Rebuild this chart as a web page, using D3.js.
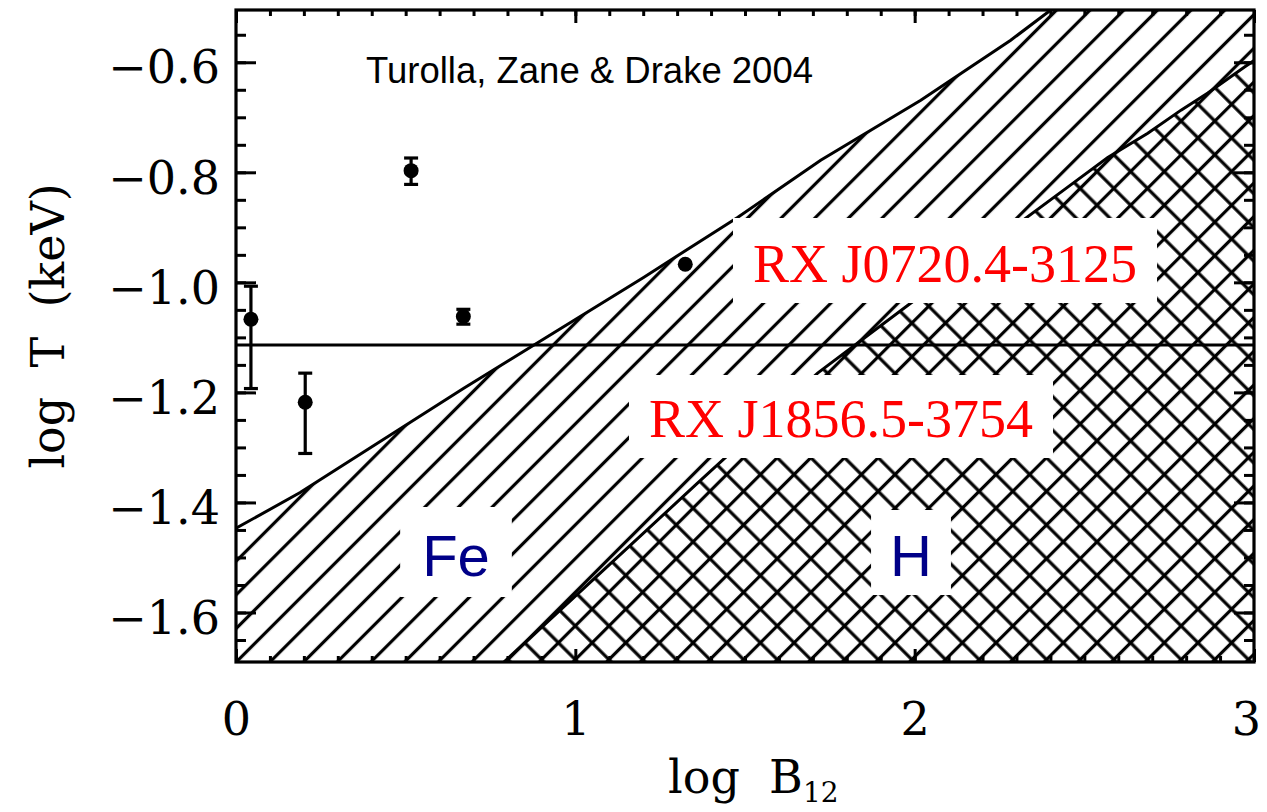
<html>
<head>
  <meta charset="utf-8">
  <title>log T vs log B12</title>
  <script src="https://cdnjs.cloudflare.com/ajax/libs/d3/7.8.5/d3.min.js"></script>
  <style>
    body { margin: 0; background: #fff; }
  </style>
</head>
<body>
  <svg></svg>
  <script>
// ---- data ----
var xTickVals = [0, 1, 2, 3];
var yTickVals = [-1.6, -1.4, -1.2, -1.0, -0.8, -0.6];

// observed stars: log B12, log T, error range
var starB  = [0.044, 0.204, 0.516, 0.670, 1.324];
var starT  = [-1.067, -1.218, -0.797, -1.062, -0.967];
var errLo  = [-1.193, -1.311, -0.822, -1.076, null];
var errHi  = [-1.007, -1.165, -0.774, -1.049, null];

// horizontal reference line
var refT = -1.114;

// upper edge of the Fe (hatched) region
var feB = [0, 0.189, 0.670, 1.201, 1.478, 1.723, 2.018, 2.283, 2.401, 2.55];
var feT = [-1.447, -1.382, -1.193, -0.991, -0.882, -0.778, -0.669, -0.560, -0.505, -0.45];

// upper edge of the H (cross hatched) region
var hB = [0.74, 0.790, 1.360, 1.714, 1.988, 2.451, 2.569, 2.687, 2.785, 2.864, 2.971, 3.0];
var hT = [-1.75, -1.69, -1.365, -1.165, -1.038, -0.827, -0.773, -0.729, -0.687, -0.656, -0.609, -0.597];

var w = 1267, h = 812;
var svg = d3.select("svg").attr("width", w).attr("height", h);

var x = d3.scaleLinear().domain([0, 3]).range([236, 1254]);
var y = d3.scaleLinear().domain([-1.69, -0.505]).range([662, 10]);

var x0 = x(0), x1 = x(3), yb = y(-1.69), yt = y(-0.505);

var defs = svg.append("defs");
defs.append("clipPath").attr("id", "plotclip")
  .append("rect").attr("x", x0).attr("y", yt).attr("width", x1 - x0).attr("height", yb - yt);

// hatch patterns (45 degree lines)
var tile = 23.8;
var hatchW = 3.2;
var pf = defs.append("pattern").attr("id", "hatchFe")
  .attr("patternUnits", "userSpaceOnUse")
  .attr("width", tile).attr("height", tile)
  .attr("patternTransform", "rotate(45)");
pf.append("line").attr("x1", 16.4).attr("x2", 16.4).attr("y1", -1).attr("y2", tile + 1)
  .attr("stroke", "#000").attr("stroke-width", hatchW);

var ph = defs.append("pattern").attr("id", "hatchH")
  .attr("patternUnits", "userSpaceOnUse")
  .attr("width", tile).attr("height", tile)
  .attr("patternTransform", "rotate(45)");
ph.append("line").attr("x1", 16.4).attr("x2", 16.4).attr("y1", -1).attr("y2", tile + 1)
  .attr("stroke", "#000").attr("stroke-width", hatchW);
ph.append("line").attr("y1", 12).attr("y2", 12).attr("x1", -1).attr("x2", tile + 1)
  .attr("stroke", "#000").attr("stroke-width", hatchW);

var plot = svg.append("g").attr("clip-path", "url(#plotclip)");

var line = d3.line().x(function(d) { return x(d[0]); }).y(function(d) { return y(d[1]); });

var fePts = feB.map(function(b, i) { return [b, feT[i]]; });
var feArea = fePts.concat([[3.2, -0.45], [3.2, -1.8], [0, -1.8]]);
var hPts = hB.map(function(b, i) { return [b, hT[i]]; });
var hArea = hPts.concat([[3.2, -0.597], [3.2, -1.8], [0.74, -1.8]]);

plot.append("path").attr("d", line(feArea) + "Z").attr("fill", "#fff");
plot.append("path").attr("d", line(feArea) + "Z").attr("fill", "url(#hatchFe)");
plot.append("path").attr("d", line(hArea) + "Z").attr("fill", "#fff");
plot.append("path").attr("d", line(hArea) + "Z").attr("fill", "url(#hatchH)");

plot.append("path").attr("d", line(fePts)).attr("fill", "none")
  .attr("stroke", "#000").attr("stroke-width", 3);
plot.append("path").attr("d", line(hPts)).attr("fill", "none")
  .attr("stroke", "#000").attr("stroke-width", 3);

// reference line
plot.append("line")
  .attr("x1", x0).attr("x2", x1)
  .attr("y1", y(refT)).attr("y2", y(refT))
  .attr("stroke", "#000").attr("stroke-width", 3);

// stars with error bars
var stars = starB.map(function(b, i) {
  return { b: b, t: starT[i], lo: errLo[i], hi: errHi[i] };
});
var eb = plot.selectAll(".err").data(stars.filter(function(d) { return d.lo !== null; }))
  .enter().append("g").attr("class", "err")
  .attr("stroke", "#000").attr("stroke-width", 3.2);
eb.append("line")
  .attr("x1", function(d) { return x(d.b); }).attr("x2", function(d) { return x(d.b); })
  .attr("y1", function(d) { return y(d.lo); }).attr("y2", function(d) { return y(d.hi); });
eb.append("line")
  .attr("x1", function(d) { return x(d.b) - 7; }).attr("x2", function(d) { return x(d.b) + 7; })
  .attr("y1", function(d) { return y(d.lo); }).attr("y2", function(d) { return y(d.lo); });
eb.append("line")
  .attr("x1", function(d) { return x(d.b) - 7; }).attr("x2", function(d) { return x(d.b) + 7; })
  .attr("y1", function(d) { return y(d.hi); }).attr("y2", function(d) { return y(d.hi); });
plot.selectAll(".star").data(stars).enter().append("circle")
  .attr("class", "star")
  .attr("cx", function(d) { return x(d.b); })
  .attr("cy", function(d) { return y(d.t); })
  .attr("r", 7.5).attr("fill", "#000");

// labels on white boxes
function boxLabel(txt, cx, base, font, size, color, padX, up, down) {
  var g = svg.append("g");
  var r = g.append("rect").attr("fill", "#fff");
  var t = g.append("text").text(txt)
    .attr("x", cx).attr("y", base)
    .attr("text-anchor", "middle")
    .attr("font-family", font).attr("font-size", size)
    .attr("fill", color);
  var bb = t.node().getBBox();
  r.attr("x", bb.x - padX).attr("width", bb.width + 2 * padX)
   .attr("y", base - up).attr("height", up + down);
}
boxLabel("RX J0720.4-3125", 945, 282, "'Liberation Serif', 'Times New Roman', serif", 54, "#ff0000", 20, 64, 21);
boxLabel("RX J1856.5-3754", 841, 437, "'Liberation Serif', 'Times New Roman', serif", 54, "#ff0000", 20, 62, 21);
boxLabel("Fe", 456, 576, "'Liberation Sans', Arial, sans-serif", 58, "#000088", 22, 69, 21);
boxLabel("H", 911, 576, "'Liberation Sans', Arial, sans-serif", 58, "#000088", 19, 66, 19);

svg.append("text").text("Turolla, Zane & Drake 2004")
  .attr("x", 366).attr("y", 83)
  .attr("font-family", "'Liberation Sans', Arial, sans-serif")
  .attr("font-size", 36.5).attr("fill", "#000");

// axes with inward ticks
var tickFont = "'DejaVu Serif', serif";
function styleAxis(g) {
  g.select(".domain").remove();
  g.selectAll(".tick line").attr("stroke", "#000").attr("stroke-width", 3);
  g.selectAll(".tick text").attr("font-family", tickFont).attr("font-size", 46).attr("fill", "#000");
}
var xMinor = d3.range(0, 3.001, 0.1);
var yMinor = d3.range(-1.65, -0.5, 0.05);

svg.append("g").attr("transform", "translate(0," + yb + ")")
  .call(d3.axisBottom(x).tickValues(xMinor).tickSize(-6).tickFormat("")).call(styleAxis);
var xa = svg.append("g").attr("transform", "translate(0," + yb + ")")
  .call(d3.axisBottom(x).tickValues(xTickVals).tickSize(-13).tickPadding(40).tickFormat(d3.format("d")))
  .call(styleAxis);
// last label sits against the page edge
xa.selectAll(".tick text").attr("dx", function(d) { return d === 3 ? -8 : 0; });
svg.append("g").attr("transform", "translate(0," + yt + ")")
  .call(d3.axisTop(x).tickValues(xMinor).tickSize(-6).tickFormat("")).call(styleAxis);
svg.append("g").attr("transform", "translate(0," + yt + ")")
  .call(d3.axisTop(x).tickValues(xTickVals).tickSize(-13).tickFormat("")).call(styleAxis);

svg.append("g").attr("transform", "translate(" + x0 + ",0)")
  .call(d3.axisLeft(y).tickValues(yMinor).tickSize(-10).tickFormat("")).call(styleAxis);
var ya = svg.append("g").attr("transform", "translate(" + x0 + ",0)")
  .call(d3.axisLeft(y).tickValues(yTickVals).tickSize(-20).tickPadding(16).tickFormat(d3.format(".1f")))
  .call(styleAxis);
ya.selectAll(".tick text").attr("dy", "0.45em");
svg.append("g").attr("transform", "translate(" + x1 + ",0)")
  .call(d3.axisRight(y).tickValues(yMinor).tickSize(-10).tickFormat("")).call(styleAxis);
svg.append("g").attr("transform", "translate(" + x1 + ",0)")
  .call(d3.axisRight(y).tickValues(yTickVals).tickSize(-20).tickFormat("")).call(styleAxis);

// frame
svg.append("rect").attr("x", x0).attr("y", yt).attr("width", x1 - x0).attr("height", yb - yt)
  .attr("fill", "none").attr("stroke", "#000").attr("stroke-width", 3.2);

// axis titles
svg.append("text")
  .attr("transform", "translate(64,326) rotate(-90)")
  .attr("text-anchor", "middle")
  .attr("font-family", tickFont).attr("font-size", 46)
  .text("log\u00a0\u00a0T\u00a0\u00a0(keV)");

var xt = svg.append("text")
  .attr("x", 668).attr("y", 793)
  .attr("font-family", tickFont).attr("font-size", 46);
xt.append("tspan").text("log\u00a0\u00a0B");
xt.append("tspan").attr("font-size", 28).attr("dy", 9).text("12");
  </script>
</body>
</html>
